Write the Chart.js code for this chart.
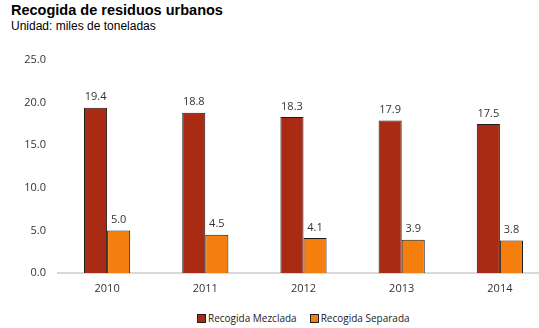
<!DOCTYPE html>
<html>
<head>
<meta charset="utf-8">
<script src="https://cdn.jsdelivr.net/npm/chart.js@4"></script>
<style>
    html, body { margin: 0; padding: 0; background: #fff; overflow: hidden; }
    body { width: 539px; height: 328px; position: relative; }
    #title { position: absolute; left: 11px; top: 2px; font: bold 14.5px "Liberation Sans", Arial, sans-serif; color: #000; }
    #subtitle { position: absolute; left: 11px; top: 19px; font: 12px "Liberation Sans", Arial, sans-serif; color: #000; }
    #wrap { position: absolute; left: 0; top: 0; width: 550px; height: 300px; }
    #legend { position: absolute; left: 197px; top: 311px; font: 10px "Open Sans", sans-serif; color: #222; white-space: nowrap; }
    #legend span.item { margin-right: 13px; }
    #legend span.box { display: inline-block; width: 7px; height: 7px; border: 1px solid #222; margin-right: 2px; vertical-align: -1px; }
</style>
</head>
<body>
<div id="title">Recogida de residuos urbanos</div>
<div id="subtitle">Unidad: miles de toneladas</div>
<div id="wrap"><canvas id="chart" width="550" height="300"></canvas></div>
<div id="legend"></div>
<script>
    const years = ["2010", "2011", "2012", "2013", "2014"];
    const mezclada = [19.4, 18.8, 18.3, 17.9, 17.5];
    const separada = [5.0, 4.5, 4.1, 3.9, 3.8];
    const yTicks = [0, 5, 10, 15, 20, 25];

    // values above each bar
    const valueLabels = {
        id: "valueLabels",
        afterDatasetsDraw(chart) {
            const ctx = chart.ctx;
            ctx.save();
            ctx.font = "11px 'Open Sans', sans-serif";
            ctx.fillStyle = "#333";
            ctx.textAlign = "center";
            ctx.textBaseline = "bottom";
            chart.data.datasets.forEach((ds, i) => {
                chart.getDatasetMeta(i).data.forEach((bar, j) => {
                    ctx.fillText(ds.data[j].toFixed(1), bar.x, bar.y - 5);
                });
            });
            ctx.restore();
        }
    };

    const chart = new Chart(document.getElementById("chart"), {
        type: "bar",
        data: {
            labels: years,
            datasets: [
                { label: "Recogida Mezclada", data: mezclada, backgroundColor: "#A92B14", borderColor: "#1a1a1a", borderWidth: 1 },
                { label: "Recogida Separada", data: separada, backgroundColor: "#F57F0E", borderColor: "#1a1a1a", borderWidth: 1 }
            ]
        },
        options: {
            responsive: false,
            animation: false,
            events: [],
            layout: { padding: { top: 60, right: 1, left: 0, bottom: 0 } },
            datasets: { bar: { categoryPercentage: 0.47, barPercentage: 1.0 } },
            plugins: { legend: { display: false }, tooltip: { enabled: false } },
            scales: {
                x: {
                    grid: { display: false, drawTicks: false },
                    border: { display: true, color: "#d9d9d9", width: 2 },
                    ticks: { color: "#333", font: { family: "'Open Sans', sans-serif", size: 11 }, padding: 9 },
                    afterFit: scale => { scale.height = 27; }
                },
                y: {
                    min: 0,
                    max: 25,
                    afterBuildTicks: scale => { scale.ticks = yTicks.map(v => ({ value: v })); },
                    grid: { display: false, drawTicks: false },
                    border: { display: false },
                    ticks: {
                        color: "#333",
                        font: { family: "'Open Sans', sans-serif", size: 11 },
                        padding: 12,
                        callback: v => v.toFixed(1)
                    },
                    afterFit: scale => { scale.width = 58; }
                }
            }
        },
        plugins: [valueLabels]
    });

    const legend = document.getElementById("legend");
    chart.data.datasets.forEach(ds => {
        const item = document.createElement("span");
        item.className = "item";
        const box = document.createElement("span");
        box.className = "box";
        box.style.background = ds.backgroundColor;
        item.appendChild(box);
        item.appendChild(document.createTextNode(ds.label));
        legend.appendChild(item);
    });
</script>
</body>
</html>
